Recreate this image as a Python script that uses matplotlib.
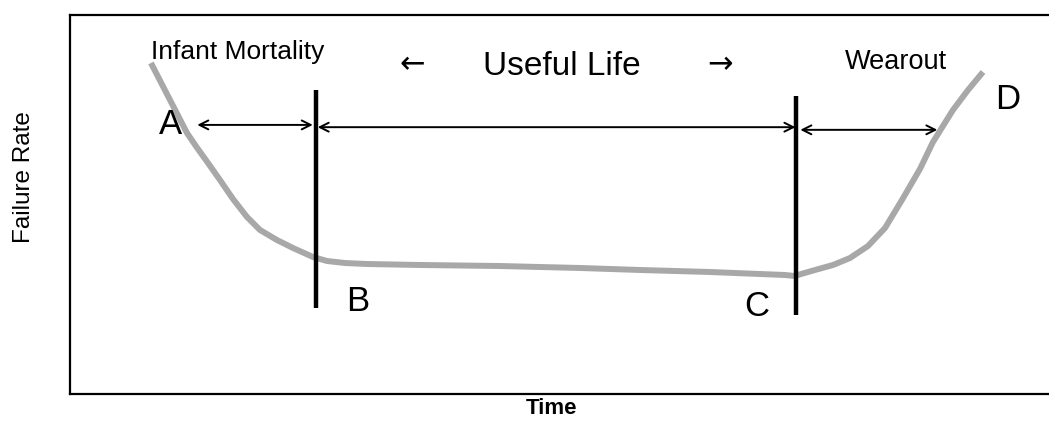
import matplotlib
matplotlib.use("Agg")
import matplotlib.pyplot as plt

# Bathtub curve (time, failure rate), arbitrary units 0-100
time = [8.27, 10.21, 11.95, 12.97, 14.00, 15.32, 16.65, 18.08,
        19.41, 21.14, 22.78, 24.82, 26.25, 28.09, 30.34, 35.75, 43.92, 52.09,
        58.22, 65.37, 70.48, 73.03, 74.06, 74.67, 76.10, 77.94, 79.67, 81.51,
        83.25, 84.98, 86.82, 88.15, 90.19, 91.73, 93.26]
failure_rate = [87.34, 77.60, 68.87, 65.00, 61.30, 56.46, 51.45, 46.70,
                43.27, 40.63, 38.52, 36.15, 35.09, 34.56, 34.30, 34.04, 33.77, 33.25,
                32.72, 32.19, 31.66, 31.40, 31.13, 31.66, 32.72, 34.04, 35.88, 39.05,
                43.80, 51.19, 59.37, 66.49, 74.93, 80.21, 84.96]

# Phase boundaries (time) and their vertical extents
boundary_x = [25.1, 74.2]
boundary_y0 = [22.7, 20.8]
boundary_y1 = [80.2, 78.6]

# Phase span arrows: (start, end, level)
span_start = [13.0, 25.3, 74.6]
span_end = [24.8, 74.1, 88.6]
span_level = [71.0, 70.4, 69.7]

phase_labels = ["Infant Mortality", "Useful Life", "Wearout"]
point_labels = ["A", "B", "C", "D"]

FONT = ["Liberation Sans", "DejaVu Sans"]
plt.rcParams["font.family"] = FONT

fig = plt.figure(figsize=(10.49, 4.21), dpi=100)
ax = fig.add_axes([70 / 1049, 1 - 394 / 421, 1 - 70 / 1049, (394 - 15) / 421])
ax.set_xlim(0, 100)
ax.set_ylim(0, 100)

ax.plot(time, failure_rate, color="#a8a8a8", lw=4.3, solid_capstyle="butt",
        solid_joinstyle="round")

for x, y0, y1 in zip(boundary_x, boundary_y0, boundary_y1):
    ax.plot([x, x], [y0, y1], color="black", lw=3.2, solid_capstyle="butt")

for s, e, lv in zip(span_start, span_end, span_level):
    ax.annotate("", xy=(e, lv), xytext=(s, lv),
                arrowprops=dict(arrowstyle="<->", color="black", lw=1.4,
                                shrinkA=0, shrinkB=0, mutation_scale=16))

ax.text(17.1, 90.2, phase_labels[0], fontsize=19, ha="center", va="center")
ax.text(50.2, 86.5, phase_labels[1], fontsize=24, ha="center", va="center")
ax.text(35.0, 86.8, "\u2190", fontsize=22, ha="center", va="center",
        family="DejaVu Sans")
ax.text(66.4, 86.8, "\u2192", fontsize=22, ha="center", va="center",
        family="DejaVu Sans")
ax.text(84.4, 87.6, phase_labels[2], fontsize=19.5, ha="center", va="center")

ax.text(10.3, 71.0, point_labels[0], fontsize=25, ha="center", va="center")
ax.text(29.4, 24.3, point_labels[1], fontsize=25, ha="center", va="center")
ax.text(70.1, 23.0, point_labels[2], fontsize=25, ha="center", va="center")
ax.text(95.8, 77.6, point_labels[3], fontsize=25, ha="center", va="center")

ax.set_xticks([])
ax.set_yticks([])
for side in ["left", "top", "bottom"]:
    ax.spines[side].set_linewidth(1.6)
ax.spines["right"].set_visible(False)

fig.text(24 / 1049, 1 - 177 / 421, "Failure Rate", rotation=90, fontsize=17.5,
         ha="center", va="center")
fig.text(551 / 1049, 1 - 409 / 421, "Time", fontsize=16, fontweight="bold",
         ha="center", va="center")

fig.savefig("out.png", dpi=100)
